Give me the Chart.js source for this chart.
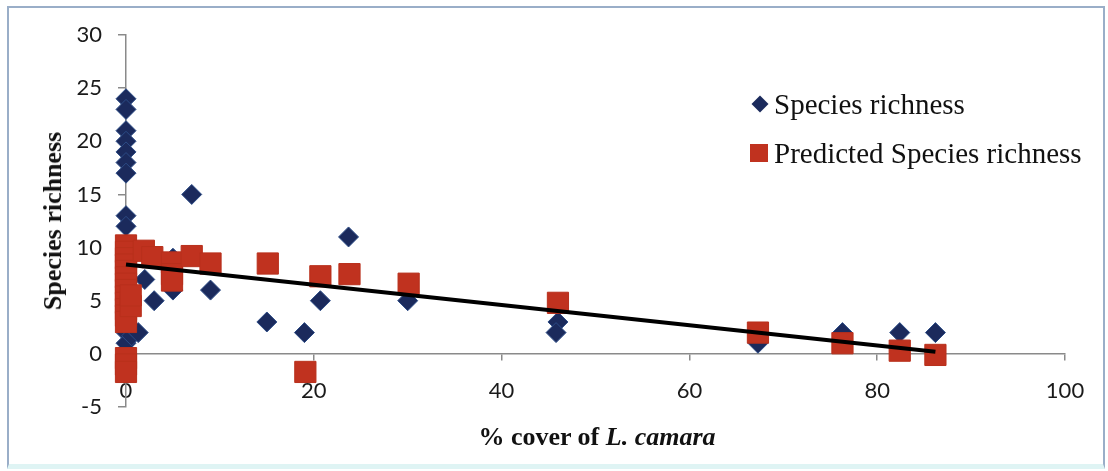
<!DOCTYPE html>
<html>
<head>
<meta charset="utf-8">
<script src="https://cdn.jsdelivr.net/npm/chart.js@4"></script>
<style>
  body { margin: 0; background: #fff; }
  #wrap { position: relative; width: 1108px; height: 471px; overflow: hidden; }
  #frame { position: absolute; left: 7px; top: 6px; width: 1094px; height: 456px;
           border: 2px solid #9aaec8; border-bottom: 5px solid #dff4f4; }
  #box { position: absolute; left: 0; top: 0; width: 1108px; height: 471px; }
  .serif { position: absolute; font-family: "Liberation Serif", "DejaVu Serif", serif; color: #111; white-space: nowrap; }
  #ytitle { left: 53px; top: 221px; font-size: 26px; font-weight: bold; transform: translate(-50%, -50%) rotate(-90deg); }
  #xtitle { left: 597px; top: 437px; font-size: 26px; font-weight: bold; transform: translate(-50%, -50%); }
  .leg { position: absolute; left: 774px; font-size: 29px; transform: translateY(-50%); }
  .mk { position: absolute; }
</style>
</head>
<body>
<div id="wrap">
  <div id="frame"></div>
  <div id="box"><canvas id="chart"></canvas></div>
  <div id="ytitle" class="serif">Species richness</div>
  <div id="xtitle" class="serif">% cover of <i>L. camara</i></div>
  <div class="mk" style="left:751px;top:95px;width:18px;height:18px;">
    <div style="width:12px;height:12px;margin:3px;background:#1b2a5c;transform:rotate(45deg);"></div>
  </div>
  <div class="serif leg" style="top:104px;">Species richness</div>
  <div class="mk" style="left:750px;top:144px;width:18px;height:18px;background:#c0321f;"></div>
  <div class="serif leg" style="top:153px;">Predicted Species richness</div>
</div>
<script>
// observed species richness vs % cover
const richX = [0, 0, 0, 0, 0, 0, 0, 0, 0, 0, 0, 0, 0, 0, 0.6, 1.3, 2, 3, 5, 5, 7, 9, 15, 19, 20.7, 23.7, 30, 46, 45.8, 67.3, 76.3, 82.4, 86.2];
const richY = [24, 23, 21, 20, 19, 18, 17, 13, 12, 10, 7, 4, 2, 1, 1.7, 2, 7, 5, 9, 6, 15, 6, 3, 2, 5, 11, 5, 3, 2, 1, 2, 2, 2];

// predicted species richness
const predX = [0, 0, 0, 0, 0, 0, 0, 0, 0, 0, 0, 0, 0, 0, 0, 0, 0.5, 0.5, 1.9, 2.8, 4.9, 4.9, 4.9, 7, 9, 15.1, 19.1, 20.7, 23.8, 30.1, 46, 67.3, 76.3, 82.4, 86.2];
const predY = [10.2, 9.6, 9.0, 8.4, 7.8, 7.2, 6.6, 6.0, 5.4, 4.8, 4.2, 3.6, 3.0, -0.4, -1.0, -1.7, 4.5, 5.5, 9.7, 9.1, 8.6, 7.5, 6.9, 9.2, 8.5, 8.5, -1.7, 7.3, 7.5, 6.6, 4.8, 2.0, 1.0, 0.3, -0.1];

// fitted trend line end points
const trendX = [0, 86.2];
const trendY = [8.4, 0.2];

const xTicks = [0, 20, 40, 60, 80, 100];
const yTicks = [-5, 0, 5, 10, 15, 20, 25, 30];

function pts(xs, ys) {
  return xs.map((x, i) => ({x: x, y: ys[i]}));
}

const tickFont = {family: 'Lato, "Open Sans", sans-serif', size: 22};

new Chart(document.getElementById('chart'), {
  type: 'scatter',
  data: {
    datasets: [
      {
        label: 'Trend',
        type: 'line',
        data: pts(trendX, trendY),
        borderColor: '#000',
        borderWidth: 4,
        pointRadius: 0,
        fill: false,
        order: 0,
        clip: false
      },
      {
        label: 'Predicted Species richness',
        data: pts(predX, predY),
        pointStyle: 'rect',
        pointRadius: 15,
        backgroundColor: '#c0321f',
        borderColor: '#b8301c',
        borderWidth: 1,
        order: 1,
        clip: false
      },
      {
        label: 'Species richness',
        data: pts(richX, richY),
        pointStyle: 'rectRot',
        pointRadius: 10,
        backgroundColor: '#1b2a5c',
        borderColor: '#2c4c86',
        borderWidth: 1,
        order: 2,
        clip: false
      }
    ]
  },
  options: {
    responsive: true,
    maintainAspectRatio: false,
    animation: false,
    layout: { padding: { left: 76, right: 43, top: 35, bottom: 64 } },
    plugins: { legend: { display: false }, tooltip: { enabled: false } },
    scales: {
      x: {
        type: 'linear',
        min: 0, max: 100,
        position: { y: 0 },
        afterFit: s => { s.height = 0; },
        afterBuildTicks: s => { s.ticks = xTicks.map(v => ({value: v})); },
        ticks: { font: tickFont, color: '#1a1a1a', padding: 18, maxRotation: 0 },
        grid: { drawOnChartArea: false, tickLength: 6, color: '#8a8a8a', lineWidth: 1.5 },
        border: { color: '#8a8a8a', width: 1.5 }
      },
      y: {
        type: 'linear',
        min: -5, max: 30,
        position: 'left',
        afterFit: s => { s.width = 50; },
        afterBuildTicks: s => { s.ticks = yTicks.map(v => ({value: v})); },
        ticks: { font: tickFont, color: '#1a1a1a', padding: 16 },
        grid: { drawOnChartArea: false, tickLength: 8, color: '#8a8a8a', lineWidth: 1.5 },
        border: { color: '#8a8a8a', width: 1.5 }
      }
    }
  }
});
</script>
</body>
</html>
